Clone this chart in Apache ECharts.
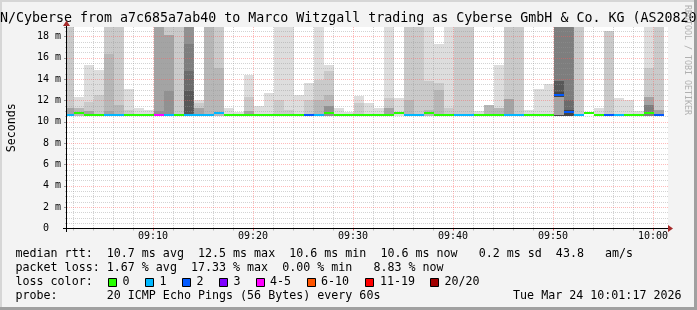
<!DOCTYPE html>
<html><head><meta charset="utf-8">
<script src="https://cdn.jsdelivr.net/npm/echarts@6/dist/echarts.min.js"></script>
<style>html,body{margin:0;padding:0;background:#f3f3f3}#c{width:697px;height:310px}</style>
</head><body><div id="c"></div>
<script>
// ---------- data ----------
const titleText = 'N/Cyberse from a7c685a7ab40 to Marco Witzgall trading as Cyberse GmbH & Co. KG (AS20820';
const axisStartMinute = 1.4;      // minutes after 09:00 at left edge of plot
const axisEndMinute = 61.5;
const firstColumnMinute = 1.067;  // each column spans one minute
const majorTickMinutes = [10, 20, 30, 40, 50, 60];
const majorTickLabels = ['09:10', '09:20', '09:30', '09:40', '09:50', '10:00'];
const minorTickMinutes = [2,4,6,8,12,14,16,18,22,24,26,28,32,34,36,38,42,44,46,48,52,54,56,58];
const yMaxMs = 18.89;
const minRtt = 10.5;

// median RTT per column (ms)
const medianRtt = [
 10.62,10.79,10.62,10.62,10.62,10.62,10.62,10.62,10.62,10.62,
 10.62,10.62,10.62,10.62,10.62,10.79,10.62,10.62,10.62,10.62,
 10.62,10.62,10.62,10.62,10.62,10.62,10.79,10.62,10.62,10.62,
 10.62,10.62,10.62,10.79,10.62,10.62,10.79,10.62,10.62,10.62,
 10.62,10.62,10.62,10.62,10.62,10.62,10.62,10.62,10.62,12.5,
 10.9,10.62,10.79,10.62,10.62,10.62,10.62,10.62,10.79,10.62
];
// loss colour class per column (index into lossColors)
const lossClass = [
 1,0,0,0,1,1,0,0,0,4,
 1,0,1,1,1,1,0,0,0,0,
 0,0,0,0,2,1,0,0,0,0,
 0,0,0,0,1,1,0,0,0,1,
 1,0,0,0,1,1,0,0,0,2,
 2,1,0,0,2,1,0,0,0,2
];
// smoke bands per column: [shade level 1..9, top ms, (optional bottom ms)]
const smokeBands = [
 [[2,20],[4,11.25]],
 [[1,12.34],[3,11.25]],
 [[1,15.37],[2,11.87],[4,11.03]],
 [[1,14.84],[2,12.5]],
 [[2,20],[3,16.4],[4,11.03]],
 [[2,20],[3,11.56]],
 [[1,13.06],[2,11.09]],
 [[1,11.25]],
 [[1,11.09]],
 [[4,20],[5,11.0]],
 [[2,20],[4,18.12],[5,12.9]],
 [[2,20]],
 [[5,20],[6,17.28],[7,14.78],[8,12.9]],
 [[1,12.09],[2,11.72],[4,11.25]],
 [[3,20]],
 [[2,20],[3,15.06]],
 [[1,11.31]],
 [[1,10.9]],
 [[1,14.43],[2,12.34],[4,11.03]],
 [[1,11.5]],
 [[1,12.72]],
 [[1,20],[2,12.0]],
 [[1,20],[2,11.09]],
 [[1,12.5]],
 [[1,13.65],[2,12.09]],
 [[1,20],[2,13.9],[3,12.09]],
 [[1,15.37],[2,14.78],[3,12.5],[5,11.5]],
 [[1,11.31]],
 [[1,10.9]],
 [[1,12.4],[2,11.8]],
 [[1,11.78]],
 [[1,11.25]],
 [[1,20],[2,12.25],[4,11.25]],
 [[1,12.19]],
 [[2,20],[3,12.03]],
 [[2,20]],
 [[1,20],[2,13.84],[3,11.09]],
 [[1,17.28],[2,13.65],[3,13.03]],
 [[1,20],[2,11.25]],
 [[2,20]],
 [[2,20]],
 [[1,11.03]],
 [[3,11.56]],
 [[1,15.37],[3,11.31]],
 [[2,20],[4,12.12]],
 [[2,20]],
 [[1,11.15]],
 [[1,13.06]],
 [[1,13.5]],
 [[6,20],[8,13.81],[9,12.81],[4,12.3,10.65]],
 [[6,20],[7,12.03],[9,11.1]],
 [[2,20]],
 [],
 [[1,11.31]],
 [[2,18.5]],
 [[1,12.25]],
 [[1,12.03]],
 [[1,11.03]],
 [[1,20],[2,15.06],[4,12.34],[6,11.56]],
 [[2,20],[4,11.09]]
];
const lossColors = ['#26ff00','#00b8ff','#0059ff','#7e00ff','#ff00ff','#ff5500','#ff0000','#a10000'];
const lossLabels = ['0','1','2','3','4-5','6-10','11-19','20/20'];
const legendRtt  = 'median rtt:  10.7 ms avg  12.5 ms max  10.6 ms min  10.6 ms now   0.2 ms sd  43.8   am/s';
const legendLoss = 'packet loss: 1.67 % avg  17.33 % max  0.00 % min   8.83 % now';
const legendColorTitle = 'loss color:';
const legendProbe = 'probe:       20 ICMP Echo Pings (56 Bytes) every 60s';
const stampText = 'Tue Mar 24 10:01:17 2026';
const sideText = 'RRDTOOL / TOBI OETIKER';

// ---------- build ----------
const MONO = 'DejaVu Sans Mono';
function grey(level){ const g = Math.round(190/10*(10-level)+50); return 'rgb('+g+','+g+','+g+')'; }

const smokeItems = [];
smokeBands.forEach((bands, i) => bands.forEach(b => smokeItems.push([i, b[0], b.length > 2 ? b[2] : minRtt, b[1]])));
const medianItems = medianRtt.map((m, i) => [i, m, lossClass[i]]);

function colBounds(api, i){
  const l = Math.max(firstColumnMinute + i, axisStartMinute);
  const r = Math.min(firstColumnMinute + i + 1, axisEndMinute);
  return [Math.round(api.coord([l, 0])[0]), Math.round(api.coord([r, 0])[0])];
}

const chart = echarts.init(document.getElementById('c'), null, {renderer:'canvas', width:697, height:310});

const redGrid = {color:'rgba(255,90,90,0.42)', type:'dotted', width:1};
const greyGrid = {color:'rgba(150,150,150,0.42)', type:'dotted', width:1};

const graphics = [];
graphics.push({type:'rect', shape:{x:0,y:0,width:697,height:2}, style:{fill:'#d6d6d6'}, silent:true});
graphics.push({type:'rect', shape:{x:0,y:0,width:2,height:310}, style:{fill:'#d6d6d6'}, silent:true});
graphics.push({type:'rect', shape:{x:694,y:0,width:3,height:310}, style:{fill:'#a0a0a0'}, silent:true});
graphics.push({type:'rect', shape:{x:0,y:307,width:697,height:3}, style:{fill:'#a0a0a0'}, silent:true});
graphics.push({type:'text', x:0, y:19, style:{text:titleText, font:'13.3px "'+MONO+'"', fill:'#000', textVerticalAlign:'middle'}, silent:true});
graphics.push({type:'text', x:687.5, y:60, rotation:-Math.PI/2, style:{text:sideText, font:'8.3px "'+MONO+'"', fill:'#b0b0b0', textAlign:'center', textVerticalAlign:'middle'}, silent:true});
graphics.push({type:'line', shape:{x1:63,y1:228.5,x2:669,y2:228.5}, style:{stroke:'#000', lineWidth:1}, z:50, silent:true});
graphics.push({type:'line', shape:{x1:66.5,y1:232,x2:66.5,y2:24}, style:{stroke:'#000', lineWidth:1}, z:50, silent:true});
graphics.push({type:'polygon', shape:{points:[[668,225],[673,228.5],[668,232]]}, style:{fill:'#a52a2a'}, z:51, silent:true});
graphics.push({type:'polygon', shape:{points:[[63,26],[66.5,20.5],[70,26]]}, style:{fill:'#a52a2a'}, z:51, silent:true});
const LF = '11.67px "'+MONO+'"';
[[legendRtt,254.3],[legendLoss,268.3],[legendColorTitle,282.3],[legendProbe,296.3]].forEach(r=>{
  graphics.push({type:'text', x:15.5, y:r[1], style:{text:r[0], font:LF, fill:'#000', textVerticalAlign:'middle'}, silent:true});
});
graphics.push({type:'text', x:681.5, y:296.3, style:{text:stampText, font:LF, fill:'#000', textAlign:'right', textVerticalAlign:'middle'}, silent:true});
const boxX = [108.5, 145.5, 182.5, 219.5, 256.5, 307.5, 365.5, 430.5];
const labelX = [122.5, 159.5, 196.5, 233.5, 270, 321, 380, 444.5];
lossLabels.forEach((lab, k)=>{
  graphics.push({type:'rect', shape:{x:boxX[k], y:278.5, width:8, height:8}, style:{fill:lossColors[k], stroke:'#000', lineWidth:1}, silent:true});
  graphics.push({type:'text', x:labelX[k], y:282.3, style:{text:lab, font:LF, fill:'#000', textVerticalAlign:'middle'}, silent:true});
});

chart.setOption({
  animation:false,
  backgroundColor:'#f3f3f3',
  grid:{left:67, top:27, width:601, height:201.5, show:true, backgroundColor:'#ffffff', borderWidth:0,
        containLabel:false, outerBoundsMode:'none'},
  xAxis:[
    {type:'value', min:axisStartMinute, max:axisEndMinute, position:'bottom', z:6,
     axisLine:{show:false},
     axisTick:{show:true, customValues:majorTickMinutes, length:2, lineStyle:{color:'#e06060'}},
     axisLabel:{customValues:majorTickMinutes, formatter:v=>majorTickLabels[majorTickMinutes.indexOf(v)], fontFamily:MONO, fontSize:10, color:'#000', margin:3},
     splitLine:{show:true, lineStyle:redGrid}},
    {type:'value', min:axisStartMinute, max:axisEndMinute, position:'bottom', z:5,
     axisLine:{show:false}, axisLabel:{show:false},
     axisTick:{show:true, customValues:minorTickMinutes, length:2, lineStyle:{color:'#bbbbbb'}},
     splitLine:{show:true, lineStyle:greyGrid}}
  ],
  yAxis:{type:'value', min:0, max:yMaxMs, interval:2, z:6,
     name:'Seconds', nameLocation:'middle', nameGap:49, nameRotate:90,
     nameTextStyle:{fontFamily:MONO, fontSize:11.67, color:'#000'},
     axisLine:{show:false},
     axisTick:{show:true, length:3, lineStyle:{color:'#999'}},
     minorTick:{show:true, splitNumber:4, length:2, lineStyle:{color:'#bbb'}},
     axisLabel:{fontFamily:MONO, fontSize:10, color:'#000', margin:6, showMaxLabel:false,
                formatter:v=> v===0 ? '0  ' : v+' m'},
     splitLine:{show:true, showMaxLine:false, lineStyle:redGrid},
     minorSplitLine:{show:true, lineStyle:greyGrid}},
  series:[
    {type:'custom', xAxisIndex:0, yAxisIndex:0, z:2, silent:true, data:smokeItems,
     renderItem:(params, api)=>{
       const i = api.value(0), lvl = api.value(1), lo = api.value(2), hi = Math.min(api.value(3), yMaxMs);
       const xb = colBounds(api, i);
       const y0 = Math.round(api.coord([axisStartMinute, hi])[1]);
       const y1 = Math.round(api.coord([axisStartMinute, lo])[1]);
       return {type:'rect', shape:{x:xb[0], y:y0, width:xb[1]-xb[0], height:y1-y0}, style:{fill:grey(lvl)}};
     }},
    {type:'custom', xAxisIndex:0, yAxisIndex:0, z:20, silent:true, data:medianItems,
     renderItem:(params, api)=>{
       const i = api.value(0), m = api.value(1), c = api.value(2);
       const xb = colBounds(api, i);
       const y = Math.round(api.coord([axisStartMinute, m])[1]);
       return {type:'rect', shape:{x:xb[0], y:y-1, width:xb[1]-xb[0], height:2}, style:{fill:lossColors[c]}};
     }}
  ],
  graphic:graphics
});
</script></body></html>
